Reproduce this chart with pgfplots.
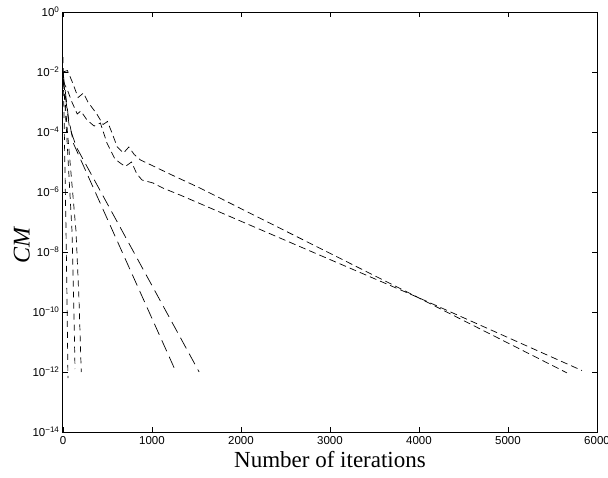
\documentclass[border=0pt]{standalone}
\usepackage{fontspec}
\setmainfont{Liberation Serif}
\setsansfont{Liberation Sans}
\usepackage{pgfplots}
\pgfplotsset{compat=1.18}

\begin{document}
\begin{tikzpicture}
\begin{axis}[
  scale only axis,
  width=534pt, height=420pt,
  ymode=log,
  xmin=0, xmax=6000, ymin=1e-14, ymax=1,
  xtick={0,1000,...,6000},
  xticklabels={0,1000,2000,3000,4000,5000,6000},
  ytick={1e-14,1e-12,1e-10,1e-8,1e-6,1e-4,1e-2,1},
  yticklabels={10\textsuperscript{−14},10\textsuperscript{−12},10\textsuperscript{−10},10\textsuperscript{−8},10\textsuperscript{−6},10\textsuperscript{−4},10\textsuperscript{−2},10\textsuperscript{0}},
  minor tick num=0,
  yminorticks=false,
  tick align=inside,
  major tick length=5pt,
  tick style={black, line width=0.6pt},
  axis line style={line width=1pt},
  tick label style={font=\sffamily\fontsize{11.5}{12}\selectfont},
  xticklabel style={yshift=-1pt},
  xlabel={Number of iterations},
  ylabel={\textit{CM}},
  xlabel style={font=\fontsize{23}{25}\selectfont, at={(axis description cs:0.5,0)},
    anchor=north, inner sep=0pt, yshift=-19pt},
  ylabel style={font=\fontsize{24}{26}\selectfont, at={(axis description cs:-0.077,0.445)},
    anchor=center, inner sep=0pt},
  every axis plot/.append style={black, line width=0.7pt},
]
% slow curves
\addplot[dash pattern=on 7pt off 4pt] coordinates {
  (0,1e-2) (50,1.12e-2) (100,5.01e-3) (170,1.41e-3) (230,2.0e-3) (280,1e-3)
  (380,3.98e-4) (450,1.78e-4) (500,2.24e-4) (540,1.12e-4) (610,3.16e-5)
  (680,2.0e-5) (740,3.16e-5) (800,1.78e-5) (870,1.17e-5) (1011,7.41e-6)
  (1200,3.98e-6) (1540,1.35e-6) (3978,3.16e-10) (5663,9.33e-13)
};
\addplot[dash pattern=on 7pt off 4pt] coordinates {
  (0,5.01e-3) (50,2.51e-3) (100,1e-3) (160,3.98e-4) (200,5.01e-4) (270,2.51e-4)
  (350,1.58e-4) (420,2.0e-4) (494,4.27e-5) (584,1.26e-5) (650,8.91e-6)
  (700,7.08e-6) (770,1e-5) (830,3.98e-6) (888,2.51e-6) (1011,2.0e-6)
  (1124,1.35e-6) (1315,7.94e-7) (1393,6.31e-7) (3978,3.16e-10)
  (5831,1.12e-12)
};
% medium curves
\addplot[dash pattern=on 12pt off 6pt] coordinates {
  (0,1e-2) (60,3.16e-4) (120,3.98e-5) (1270,1e-12)
};
\addplot[dash pattern=on 12pt off 6pt] coordinates {
  (0,6.31e-3) (70,1.58e-4) (150,3.16e-5) (1530,1e-12)
};
% steep curves
\addplot[dash pattern=on 6pt off 5pt] coordinates {
  (0,3.16e-2) (34,5.37e-8) (45,2.51e-10) (56,6.31e-13)
};
\addplot[dash pattern=on 6pt off 5pt] coordinates {
  (0,1e-2) (40,1e-4) (101,5.01e-8) (120,2.51e-10) (135,1.26e-12)
};
\addplot[dash pattern=on 6pt off 5pt] coordinates {
  (0,1e-2) (50,1e-4) (146,5.01e-8) (180,2.51e-10) (205,1e-12)
};
\end{axis}
\pgfresetboundingbox
\path[use as bounding box] ([xshift=-63pt,yshift=-45pt]current axis.south west)
  rectangle ([xshift=11pt,yshift=12pt]current axis.north east);
\end{tikzpicture}
\end{document}
